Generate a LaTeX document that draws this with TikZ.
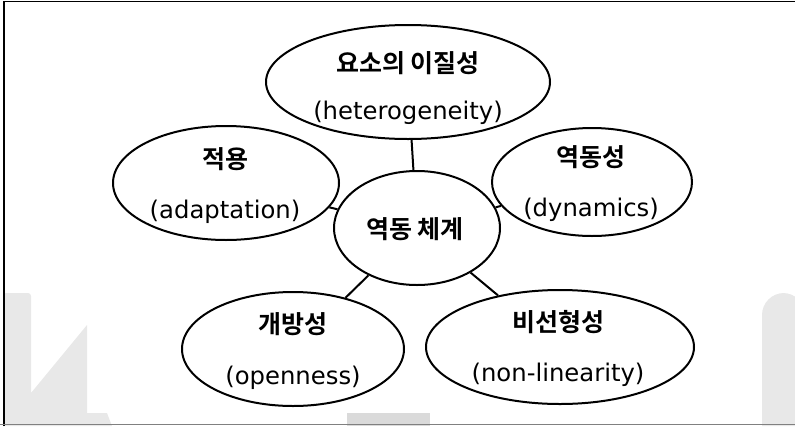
\documentclass[tikz,border=0pt]{standalone}
\usepackage{fontspec}
\setmainfont{DejaVu Sans}
\newfontfamily\krb{Noto Sans CJK KR Bold}
\usetikzlibrary{shapes.geometric}
\definecolor{wmgray}{HTML}{E8E8E8}
\definecolor{wmdark}{HTML}{DADADA}
\definecolor{framegray}{HTML}{808080}
\begin{document}
\begin{tikzpicture}[x=1pt,y=-1pt,
  ell/.style={ellipse, draw, line width=2pt, inner sep=0pt, fill=white},
  kt/.style={font=\krb\fontsize{25}{29}\selectfont, inner sep=0pt},
  lt/.style={font=\fontsize{24.3}{28}\selectfont, inner sep=0pt},
  link/.style={line width=2pt},
  wm/.style={fill=wmgray, draw=none}]
\useasboundingbox (0,0) rectangle (795,426);
% watermark shapes
\fill[wm, rounded corners=3] (3,426) -- (3,293) -- (31,293) [sharp corners] -- (31,393) -- (87,325) -- (87,413) -- (107,413) -- (112,426) -- cycle;
\fill[wm, rounded corners=22] (762,426) -- (762,293) -- (805,293) [sharp corners] -- (805,426) -- cycle;
\fill[wmdark] (347,413) rectangle (430,426);
% frame
\draw[black, line width=1.5pt] (4,426) -- (4,1.5) -- (795,1.5);
\draw[framegray, line width=1.5pt] (0,424.5) -- (795,424.5);
% ellipses
\node[ell, minimum width=284, minimum height=114] (e1) at (408,82) {};
\node[ell, minimum width=226, minimum height=114] (e2) at (226,183) {};
\node[ell, minimum width=200, minimum height=108] (e3) at (592,182) {};
\node[ell, minimum width=166, minimum height=114] (e0) at (417,228) {};
\node[ell, minimum width=222, minimum height=114] (e5) at (293,349) {};
\node[ell, minimum width=268, minimum height=114] (e6) at (560,347) {};
% texts
\node[kt] (k1) at (408,63) {요소의 이질성};
\node[lt] (l1) at (408,113) {(heterogeneity)};
\node[kt] (k2) at (225,159) {적용};
\node[lt] (l2) at (225,212) {(adaptation)};
\node[kt] (k3) at (591,157) {역동성};
\node[lt] (l3) at (591,210) {(dynamics)};
\node[kt] (k0) at (415,229) {역동 체계};
\node[kt] (k5) at (293,324) {개방성};
\node[lt] (l5) at (293,378) {(openness)};
\node[kt] (k6) at (558,322) {비선형성};
\node[lt] (l6) at (558,375) {(non-linearity)};
% connectors
\draw[link] (e0) -- (e1);
\draw[link] (e0) -- (e2);
\draw[link] (e0) -- (e3);
\draw[link] (e0) -- (e5);
\draw[link] (e0) -- (e6);
\end{tikzpicture}
\end{document}
